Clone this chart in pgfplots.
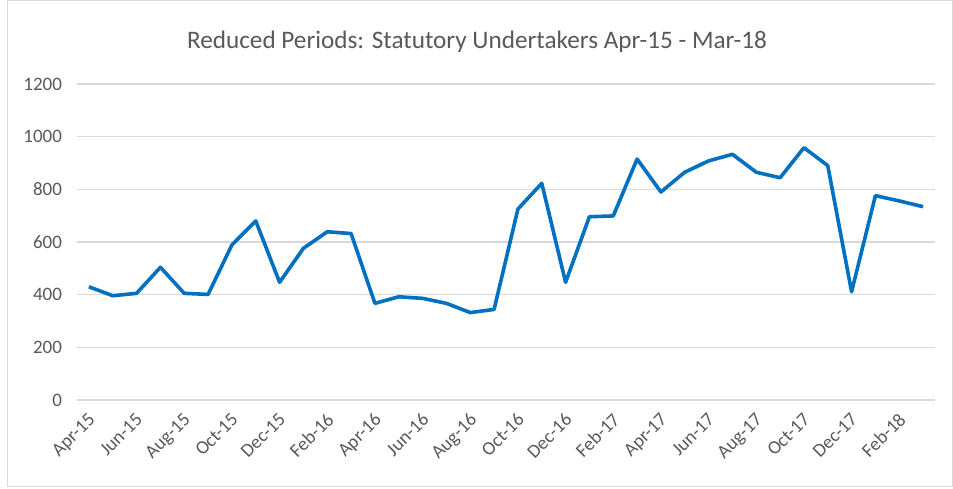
\documentclass[border=0pt]{standalone}
\usepackage{pgfplots}
\pgfplotsset{compat=1.18}
\usepackage{fontspec}
\setmainfont{Carlito}
\definecolor{txt}{HTML}{595959}
\definecolor{grid}{HTML}{D9D9D9}
\definecolor{line}{HTML}{0070C0}
\begin{document}
\begin{tikzpicture}[x=1pt,y=1pt]
\useasboundingbox (0,0) rectangle (476.5,244);
\draw[color=grid, line width=0.6pt] (3.7,0.6) rectangle (476.2,244);
\node[text=txt, font=\fontsize{12.6}{14}\selectfont] at (238.5,223) {Reduced Periods: Statutory Undertakers Apr-15 - Mar-18};
\begin{axis}[
  at={(38.5pt,44pt)}, anchor=south west,
  scale only axis, width=429pt, height=158pt,
  xmin=-0.5, xmax=35.5, ymin=0, ymax=1200,
  ytick={0,200,...,1200},
  xtick={0,2,...,34},
  xticklabels={Apr-15,Jun-15,Aug-15,Oct-15,Dec-15,Feb-16,Apr-16,Jun-16,Aug-16,Oct-16,Dec-16,Feb-17,Apr-17,Jun-17,Aug-17,Oct-17,Dec-17,Feb-18},
  axis line style={draw=none},
  major tick length=0pt,
  ymajorgrids, grid style={color=grid, line width=0.6pt},
  /pgf/number format/assume math mode=true,
  /pgf/number format/1000 sep={},
  ticklabel style={text=txt, font=\fontsize{9.5}{11}\selectfont},
  yticklabel style={xshift=-4pt},
  xticklabel style={rotate=45, anchor=north east, inner sep=1pt, yshift=-2.4pt, xshift=-3.6pt},
  clip=false,
]
\addplot[color=line, line width=1.8pt, line join=round] coordinates {
(0,430) (1,396) (2,405) (3,504) (4,405) (5,401) (6,589) (7,680) (8,447) (9,576)
(10,639) (11,632) (12,367) (13,392) (14,386) (15,367) (16,332) (17,344) (18,725) (19,823)
(20,447) (21,696) (22,699) (23,915) (24,790) (25,865) (26,908) (27,933) (28,865) (29,844)
(30,958) (31,890) (32,411) (33,776) (34,756) (35,734)
};
\end{axis}
\end{tikzpicture}
\end{document}
